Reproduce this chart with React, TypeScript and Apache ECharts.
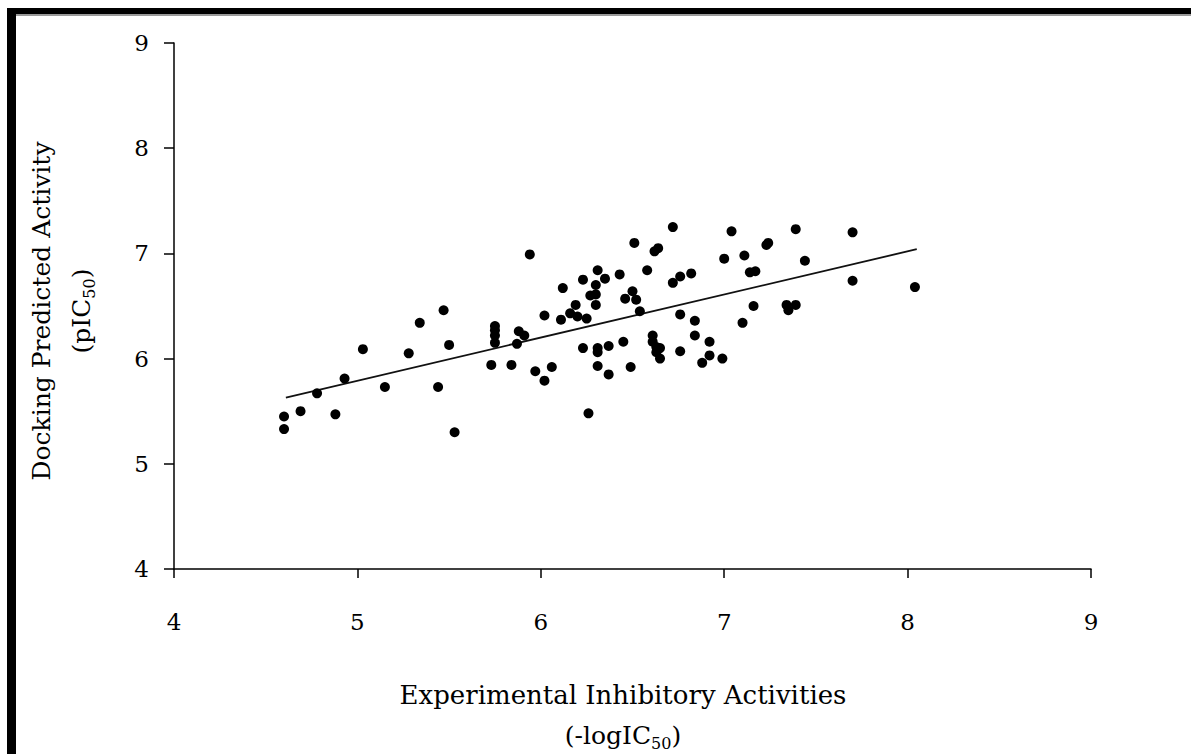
import React, { useEffect, useRef } from "react";
import * as echarts from "echarts";

const expX: number[] = [
  4.60, 4.60, 4.69, 4.78, 4.88, 4.93, 5.03, 5.15, 5.28, 5.34, 5.44, 5.47, 5.50, 5.53,
  5.73, 5.75, 5.75, 5.75, 5.75, 5.84, 5.87, 5.88, 5.91, 5.94, 5.97, 6.02, 6.02, 6.06,
  6.11, 6.12, 6.16, 6.19, 6.20, 6.23, 6.23, 6.25, 6.26, 6.27, 6.30, 6.30, 6.30, 6.31,
  6.31, 6.31, 6.31, 6.35, 6.37, 6.37, 6.43, 6.45, 6.46, 6.49, 6.50, 6.51, 6.52, 6.54,
  6.58, 6.61, 6.61, 6.62, 6.63, 6.64, 6.65, 6.63, 6.65, 6.72, 6.72, 6.76, 6.76, 6.76,
  6.82, 6.84, 6.84, 6.88, 6.92, 6.92, 6.99, 7.00, 7.04, 7.10, 7.11, 7.14, 7.17, 7.16,
  7.23, 7.24, 7.34, 7.35, 7.39, 7.39, 7.44, 7.70, 7.70, 8.04,
];
const predY: number[] = [
  5.45, 5.33, 5.50, 5.67, 5.47, 5.81, 6.09, 5.73, 6.05, 6.34, 5.73, 6.46, 6.13, 5.30,
  5.94, 6.31, 6.27, 6.22, 6.15, 5.94, 6.14, 6.26, 6.22, 6.99, 5.88, 5.79, 6.41, 5.92,
  6.37, 6.67, 6.43, 6.51, 6.40, 6.75, 6.10, 6.38, 5.48, 6.60, 6.61, 6.70, 6.51, 6.84,
  6.10, 6.06, 5.93, 6.76, 6.12, 5.85, 6.80, 6.16, 6.57, 5.92, 6.64, 7.10, 6.56, 6.45,
  6.84, 6.22, 6.16, 7.02, 6.11, 7.05, 6.10, 6.06, 6.00, 7.25, 6.72, 6.78, 6.42, 6.07,
  6.81, 6.36, 6.22, 5.96, 6.16, 6.03, 6.00, 6.95, 7.21, 6.34, 6.98, 6.82, 6.83, 6.50,
  7.08, 7.10, 6.51, 6.46, 6.51, 7.23, 6.93, 7.20, 6.74, 6.68,
];
const trendX: number[] = [4.61, 8.05];
const trendY: number[] = [5.63, 7.04];
const xTicks: number[] = [4, 5, 6, 7, 8, 9];
const yTicks: number[] = [4, 5, 6, 7, 8, 9];

const FONT = "'DejaVu Serif', 'Liberation Serif', serif";

export default function App() {
  const ref = useRef<HTMLDivElement>(null);
  useEffect(() => {
    if (!ref.current) return;
    const chart = echarts.init(ref.current, null, { renderer: "svg" });
    const points = expX.map((x, i) => [x, predY[i]]);
    const trend = trendX.map((x, i) => [x, trendY[i]]);
    chart.setOption({
      animation: false,
      backgroundColor: "#ffffff",
      grid: { left: 174, right: 100, top: 43, bottom: 185 },
      xAxis: {
        type: "value",
        min: xTicks[0],
        max: xTicks[xTicks.length - 1],
        interval: 1,
        axisLine: { show: true, lineStyle: { color: "#000", width: 1.5 } },
        axisTick: { show: true, inside: false, length: 9, lineStyle: { color: "#000", width: 1.5 } },
        axisLabel: { margin: 41, color: "#000", fontSize: 23, fontFamily: FONT },
        splitLine: { show: false },
      },
      yAxis: {
        type: "value",
        min: yTicks[0],
        max: yTicks[yTicks.length - 1],
        interval: 1,
        axisLine: { show: true, lineStyle: { color: "#000", width: 1.5 } },
        axisTick: { show: true, inside: false, length: 10, lineStyle: { color: "#000", width: 1.5 } },
        axisLabel: { margin: 25, color: "#000", fontSize: 23, fontFamily: FONT },
        splitLine: { show: false },
      },
      series: [
        {
          type: "scatter",
          data: points,
          symbol: "circle",
          symbolSize: 10,
          itemStyle: { color: "#000", opacity: 1 },
          z: 3,
        },
        {
          type: "line",
          data: trend,
          showSymbol: false,
          symbol: "none",
          lineStyle: { color: "#111", width: 1.8 },
          z: 2,
        },
      ],
      graphic: [
        { type: "rect", shape: { x: 7, y: 8, width: 1184, height: 6 }, style: { fill: "#000" } },
        { type: "rect", shape: { x: 7, y: 14, width: 1184, height: 2 }, style: { fill: "#999" } },
        { type: "rect", shape: { x: 7, y: 8, width: 9, height: 746 }, style: { fill: "#000" } },
        {
          type: "text",
          x: 41,
          y: 311,
          rotation: Math.PI / 2,
          style: {
            text: "Docking Predicted Activity",
            fill: "#000",
            font: `25px ${FONT}`,
            align: "center",
            verticalAlign: "middle",
          },
        },
        {
          type: "text",
          x: 80,
          y: 311,
          rotation: Math.PI / 2,
          style: {
            text: "{a|(pIC}{s|50}{a|)}",
            align: "center",
            verticalAlign: "middle",
            rich: {
              a: { fontSize: 25, fontFamily: FONT, color: "#000", lineHeight: 28, verticalAlign: "bottom" },
              s: { fontSize: 16, fontFamily: FONT, color: "#000", lineHeight: 16, verticalAlign: "bottom", padding: [0, 0, -3, 0] },
            },
          },
        },
        {
          type: "text",
          x: 623,
          y: 695,
          style: {
            text: "Experimental Inhibitory Activities",
            fill: "#000",
            font: `26px ${FONT}`,
            align: "center",
            verticalAlign: "middle",
          },
        },
        {
          type: "text",
          x: 623,
          y: 734,
          style: {
            text: "{a|(-logIC}{s|50}{a|)}",
            align: "center",
            verticalAlign: "middle",
            rich: {
              a: { fontSize: 25, fontFamily: FONT, color: "#000", lineHeight: 28, verticalAlign: "bottom" },
              s: { fontSize: 16, fontFamily: FONT, color: "#000", lineHeight: 16, verticalAlign: "bottom", padding: [0, 0, -3, 0] },
            },
          },
        },
      ],
    });
    return () => chart.dispose();
  }, []);
  return (
    <div
      ref={ref}
      style={{ position: "fixed", left: 0, top: 0, width: 1191, height: 754 }}
    />
  );
}
